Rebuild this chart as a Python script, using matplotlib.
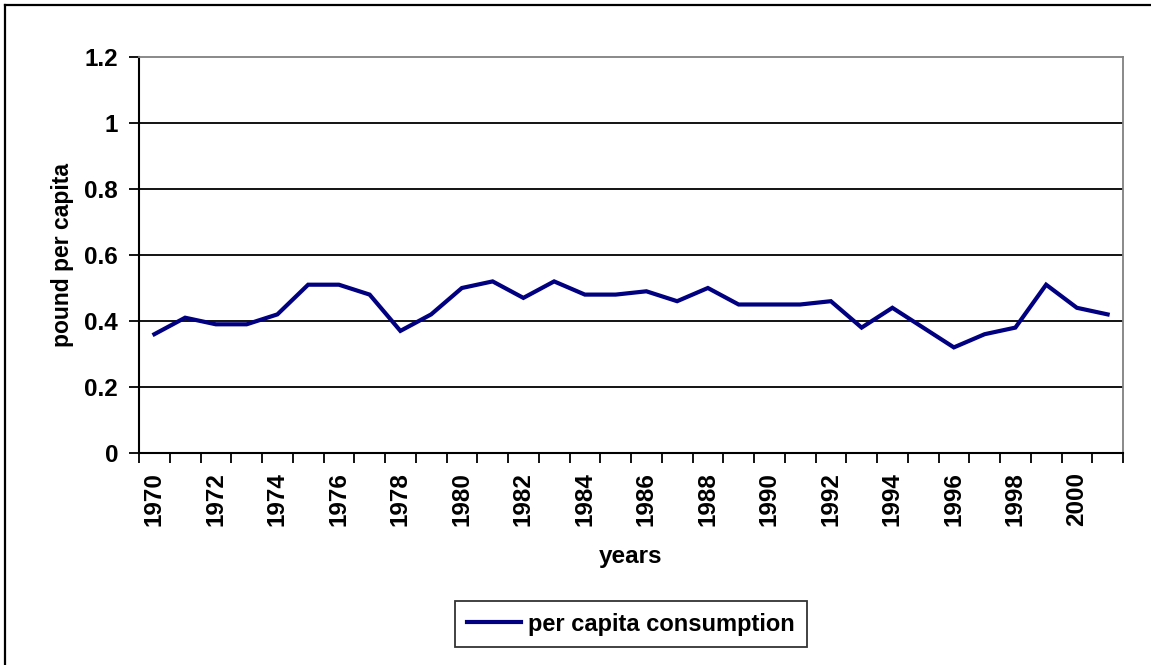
import matplotlib
matplotlib.use("Agg")
import matplotlib.pyplot as plt
from matplotlib.lines import Line2D

# data
years = list(range(1970, 2002))
consumption = [0.36, 0.41, 0.39, 0.39, 0.42, 0.51, 0.51, 0.48, 0.37, 0.42,
               0.50, 0.52, 0.47, 0.52, 0.48, 0.48, 0.49, 0.46, 0.50, 0.45,
               0.45, 0.45, 0.46, 0.38, 0.44, 0.38, 0.32, 0.36, 0.38, 0.51,
               0.44, 0.42]
yticks = [0, 0.2, 0.4, 0.6, 0.8, 1, 1.2]
ytick_labels = ["0", "0.2", "0.4", "0.6", "0.8", "1", "1.2"]

plt.rcParams['font.family'] = ['Liberation Sans', 'DejaVu Sans']
plt.rcParams['font.weight'] = 'bold'

W, H = 1151, 665
fig = plt.figure(figsize=(W / 100, H / 100), dpi=100)
ax = fig.add_axes([139 / W, 1 - 453 / H, (1123 - 139) / W, (453 - 57) / H])

x = list(range(len(years)))
ax.plot(x, consumption, color='#000080', lw=3.0, label='per capita consumption',
        solid_joinstyle='miter', zorder=3)

ax.set_xlim(-0.5, len(years) - 0.5)
ax.set_ylim(0, 1.2)

# gridlines
for v in yticks[1:-1]:
    ax.axhline(v, color='black', lw=1.3, zorder=1)

ax.set_yticks(yticks)
ax.set_yticklabels(ytick_labels, fontsize=17.5, fontweight='bold')
ax.tick_params(axis='y', direction='out', length=7, width=1.3, pad=8)

# category boundaries as ticks, labels on every other year
ax.set_xticks([i - 0.5 for i in range(len(years) + 1)])
ax.set_xticklabels([])
ax.tick_params(axis='x', which='major', direction='out', length=7, width=1.3)
ax.set_xticks(x[::2], minor=True)
ax.set_xticklabels([str(y) for y in years[::2]], minor=True, rotation=90,
                   fontsize=17.5, fontweight='bold')
ax.tick_params(axis='x', which='minor', length=0, pad=14)

ax.spines['left'].set_linewidth(1.5)
ax.spines['bottom'].set_linewidth(1.5)
ax.spines['top'].set_color('#808080')
ax.spines['right'].set_color('#808080')
ax.spines['top'].set_linewidth(1.3)
ax.spines['right'].set_linewidth(1.3)

ax.set_xlabel('years', fontsize=17.5, fontweight='bold')
ax.xaxis.set_label_coords(631 / W, 1 - 556 / H, transform=fig.transFigure)
ax.xaxis.label.set_va('center')
ax.set_ylabel('pound per capita', fontsize=16.5, fontweight='bold')
ax.yaxis.set_label_coords(62 / W, 1 - 255 / H, transform=fig.transFigure)
ax.yaxis.label.set_va('center')

leg = ax.legend(loc='center', bbox_to_anchor=(631 / W, 1 - 624 / H),
                bbox_transform=fig.transFigure, frameon=True,
                fancybox=False, edgecolor='black', handlelength=2.3,
                handletextpad=0.3, borderpad=0.5, prop={'weight': 'bold', 'size': 17})
leg.get_frame().set_linewidth(1.3)

# outer chart border (left and top visible)
fig.add_artist(Line2D([5 / W, 5 / W], [0, 1 - 5 / H], color='black', lw=1.6,
                      transform=fig.transFigure))
fig.add_artist(Line2D([5 / W, 1], [1 - 5 / H, 1 - 5 / H], color='black', lw=1.6,
                      transform=fig.transFigure))

fig.savefig('out.png', dpi=100)
